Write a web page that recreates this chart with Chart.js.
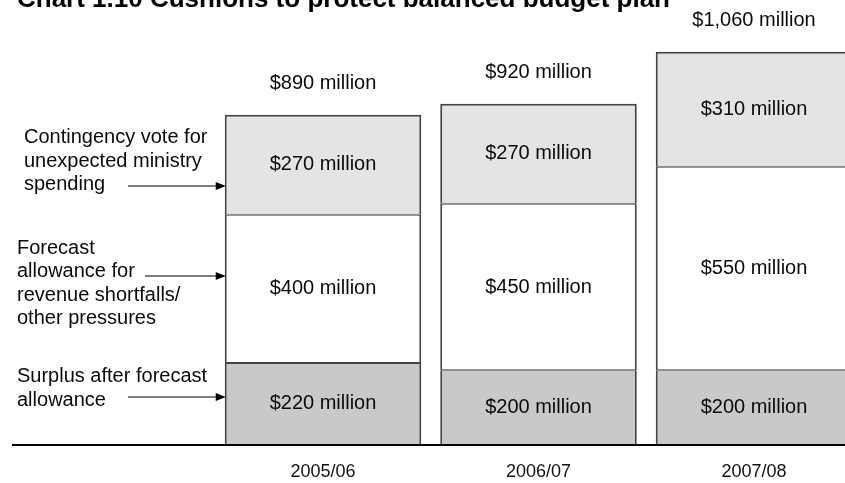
<!DOCTYPE html>
<html><head><meta charset="utf-8">
<script src="https://cdn.jsdelivr.net/npm/chart.js@4"></script>
<style>html,body{margin:0;padding:0;overflow:hidden;background:#fff;width:845px;height:483px}
canvas{display:block}</style></head>
<body><canvas id="c" width="880" height="500"></canvas>
<script>
const categories = ['2005/06', '2006/07', '2007/08'];
const surplus = [220, 200, 200];
const forecastAllowance = [400, 450, 550];
const contingency = [270, 270, 310];
const totals = [890, 920, 1060];
const chartTitle = 'Chart 1.10 Cushions to protect balanced budget plan';
const seriesNotes = [
  ['Contingency vote for', 'unexpected ministry', 'spending'],
  ['Forecast', 'allowance for', 'revenue shortfalls/', 'other pressures'],
  ['Surplus after forecast', 'allowance']
];
const fmt = v => '$' + v.toLocaleString('en-US') + ' million';
const FONT = '"Liberation Sans", Arial, sans-serif';
const noteLayout = [
  {x: 24, y: 143, lh: 23.5, ay: 186, ax: 128},
  {x: 17, y: 254, lh: 23.4, ay: 276, ax: 145},
  {x: 17, y: 382, lh: 23.5, ay: 397, ax: 128}
];

const annot = {
  id: 'annot',
  afterDatasetsDraw(chart) {
    const ctx = chart.ctx, ca = chart.chartArea;
    ctx.save();
    ctx.fillStyle = '#0a0a0a';
    ctx.font = '20px ' + FONT;
    ctx.textAlign = 'center';
    ctx.textBaseline = 'middle';
    chart.data.datasets.forEach((ds, di) => {
      chart.getDatasetMeta(di).data.forEach((bar, i) => {
        ctx.fillText(fmt(ds.data[i]), bar.x, (bar.y + bar.base) / 2);
      });
    });
    const topMeta = chart.getDatasetMeta(chart.data.datasets.length - 1);
    totals.forEach((t, i) => {
      const b = topMeta.data[i];
      ctx.fillText(fmt(t), b.x, b.y - 31);
    });
    // axis line
    ctx.fillStyle = '#000';
    ctx.fillRect(12, Math.round(ca.bottom), chart.width - 12, 2);
    // notes and arrows
    const first = chart.getDatasetMeta(0).data[0];
    const tipX = first.x - first.width / 2 + 1;
    ctx.textAlign = 'left';
    ctx.textBaseline = 'alphabetic';
    ctx.strokeStyle = '#000';
    ctx.lineWidth = 1.2;
    seriesNotes.forEach((lines, gi) => {
      const L = noteLayout[gi];
      ctx.fillStyle = '#0a0a0a';
      lines.forEach((ln, li) => ctx.fillText(ln, L.x, L.y + li * L.lh));
      ctx.beginPath();
      ctx.moveTo(L.ax, L.ay);
      ctx.lineTo(tipX - 8, L.ay);
      ctx.stroke();
      ctx.beginPath();
      ctx.moveTo(tipX, L.ay);
      ctx.lineTo(tipX - 10, L.ay - 4);
      ctx.lineTo(tipX - 10, L.ay + 4);
      ctx.closePath();
      ctx.fillStyle = '#000';
      ctx.fill();
    });
    // title (cut off at top as in the original)
    ctx.font = 'bold 26px ' + FONT;
    ctx.fillStyle = '#000';
    ctx.fillText(chartTitle, 17, 7);
    ctx.restore();
  }
};

new Chart(document.getElementById('c'), {
  type: 'bar',
  data: {
    labels: categories,
    datasets: [
      {label: 'Surplus after forecast allowance', data: surplus, backgroundColor: '#c9c9c9',
       borderColor: '#444', borderWidth: {left: 2, right: 2, top: 1, bottom: 0}, borderSkipped: false},
      {label: 'Forecast allowance', data: forecastAllowance, backgroundColor: '#ffffff',
       borderColor: '#444', borderWidth: {left: 2, right: 2, top: 1, bottom: 1}, borderSkipped: false},
      {label: 'Contingency vote', data: contingency, backgroundColor: '#e4e4e4',
       borderColor: '#444', borderWidth: {left: 2, right: 2, top: 2, bottom: 1}, borderSkipped: false}
    ]
  },
  options: {
    responsive: false,
    animation: false,
    devicePixelRatio: 1,
    layout: {padding: {left: 215.25, right: 18.25, top: 0, bottom: 0}},
    plugins: {legend: {display: false}, tooltip: {enabled: false}, title: {display: false}},
    datasets: {bar: {categoryPercentage: 1, barPercentage: 0.912}},
    scales: {
      x: {stacked: true, grid: {display: false, drawTicks: false}, border: {display: false},
          ticks: {font: {family: FONT, size: 18}, color: '#111', padding: 17}},
      y: {stacked: true, display: false, min: 0, max: 1200}
    }
  },
  plugins: [annot]
});
</script>
</body></html>
